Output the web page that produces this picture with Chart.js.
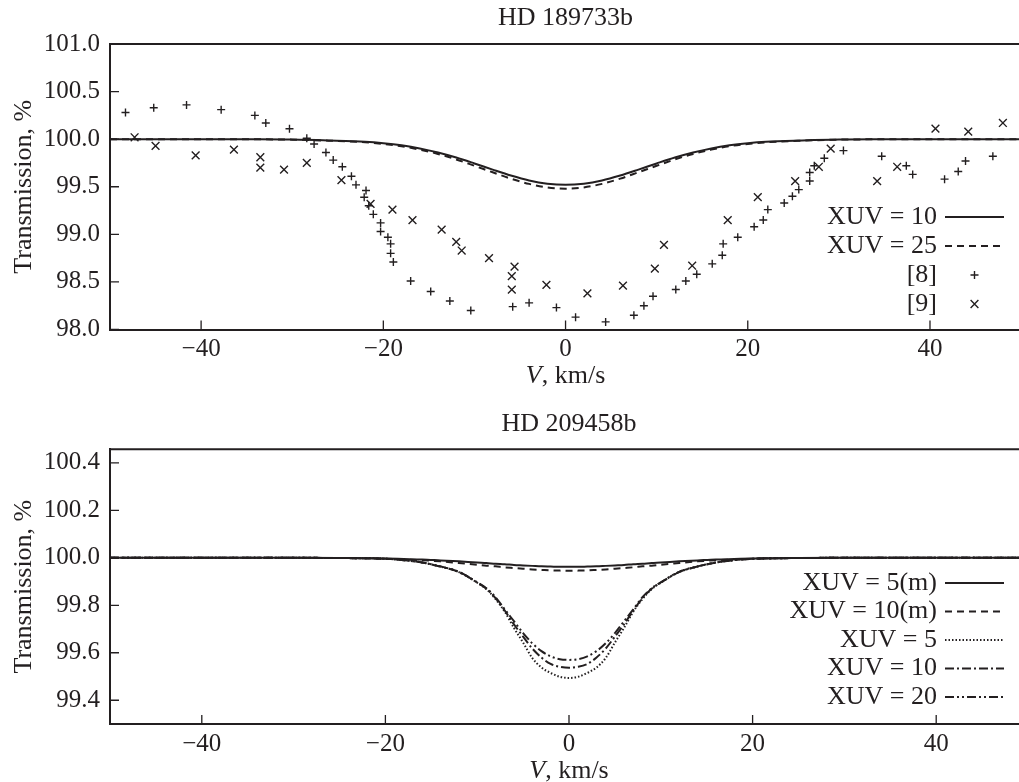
<!DOCTYPE html>
<html>
<head>
<meta charset="utf-8">
<title>Transmission profiles</title>
<script src="https://cdn.jsdelivr.net/npm/chart.js@4.4.1/dist/chart.umd.min.js"></script>
<style>
  html, body { margin: 0; padding: 0; background: #fff; overflow: hidden; }
  .panel { width: 1028px; height: 391px; }
  canvas { display: block; }
</style>
</head>
<body>
<div class="panel"><canvas id="hd189733" width="1028" height="391"></canvas></div>
<div class="panel"><canvas id="hd209458" width="1028" height="391"></canvas></div>
<script>
const INK = '#231f20';
const SERIF = '"Liberation Serif", "Times New Roman", serif';

// shared axis ticks
const xTicks = [-40, -20, 0, 20, 40];
const yTicks189 = [98.0, 98.5, 99.0, 99.5, 100.0, 100.5, 101.0];
const yTicks209 = [99.4, 99.6, 99.8, 100.0, 100.2, 100.4];

// HD 189733b, model profiles
const v189 = [-50, -40, -35, -30, -26, -22, -20, -18, -16, -14, -12, -10, -8, -6, -4, -2,
  0, 2, 4, 6, 8, 10, 12, 14, 16, 18, 20, 22, 26, 30, 35, 40, 50];
const t189xuv10 = [100, 100, 99.999, 99.996, 99.986, 99.972, 99.957, 99.935, 99.903, 99.86, 99.807, 99.745, 99.68, 99.618, 99.566, 99.532,
  99.52, 99.532, 99.566, 99.618, 99.68, 99.745, 99.807, 99.86, 99.903, 99.935, 99.957, 99.972, 99.986, 99.996, 99.999, 100, 100];
const t189xuv25 = [100, 100, 99.999, 99.995, 99.984, 99.967, 99.95, 99.926, 99.89, 99.845, 99.787, 99.72, 99.652, 99.585, 99.53, 99.493,
  99.48, 99.493, 99.53, 99.585, 99.652, 99.72, 99.787, 99.845, 99.89, 99.926, 99.95, 99.967, 99.984, 99.995, 99.999, 100, 100];

// HD 189733b, observations [8]
const obs8V = [-48.3, -45.2, -41.6, -37.8, -34.1, -32.9, -30.3, -28.4, -27.6, -26.3, -25.5, -24.5, -23.5, -23.0,
  -21.9, -22.1, -21.6, -21.1, -20.3, -20.3, -19.5, -19.2, -19.2, -18.9, -17.0, -14.8, -12.7, -10.4, -5.8, -4.0,
  -1.0, 1.1, 4.4, 7.5, 8.6, 9.6, 12.1, 13.2, 14.4, 16.1, 17.2, 17.3, 18.9, 20.7, 21.7, 22.2, 24.0, 24.9, 25.6,
  26.8, 26.8, 27.3, 28.4, 30.5, 34.7, 37.4, 38.1, 41.6, 43.1, 43.9, 46.9];
const obs8T = [100.28, 100.33, 100.36, 100.31, 100.25, 100.17, 100.11, 100.01, 99.95, 99.86, 99.78, 99.71, 99.61, 99.52,
  99.46, 99.39, 99.30, 99.21, 99.12, 99.03, 98.97, 98.90, 98.80, 98.71, 98.51, 98.40, 98.30, 98.20, 98.24, 98.28,
  98.23, 98.13, 98.08, 98.15, 98.25, 98.35, 98.42, 98.51, 98.58, 98.69, 98.78, 98.90, 98.97, 99.08, 99.15, 99.26, 99.33, 99.40, 99.47,
  99.56, 99.65, 99.72, 99.80, 99.88, 99.82, 99.72, 99.63, 99.58, 99.66, 99.77, 99.82];

// HD 189733b, observations [9]
const obs9V = [-47.3, -45.0, -40.6, -36.4, -33.5, -33.5, -30.9, -28.4, -24.6, -21.4, -19.0, -16.8, -13.6, -12.0,
  -11.4, -8.4, -5.6, -5.9, -5.9, -2.1, 2.4, 6.3, 9.8, 10.8, 13.9, 17.8, 21.1, 25.2, 27.8, 29.1, 34.2, 36.4,
  40.6, 44.2, 48.0];
const obs9T = [100.02, 99.93, 99.83, 99.89, 99.81, 99.70, 99.68, 99.75, 99.57, 99.32, 99.26, 99.15, 99.05, 98.92,
  98.83, 98.75, 98.66, 98.56, 98.42, 98.47, 98.38, 98.46, 98.64, 98.89, 98.67, 99.15, 99.39, 99.56, 99.71, 99.90, 99.56, 99.71,
  100.11, 100.08, 100.17];

// HD 209458b, model profiles
const v209 = [-50, -40, -30, -25, -20, -18, -16, -14, -12, -10, -9, -8, -7, -6, -5, -4, -3, -2, -1,
  0, 1, 2, 3, 4, 5, 6, 7, 8, 9, 10, 12, 14, 16, 18, 20, 25, 30, 40, 50];
const t209xuv5m = [100, 100, 100, 99.999, 99.997, 99.995, 99.993, 99.989, 99.985, 99.98, 99.978, 99.975, 99.973, 99.97, 99.968, 99.966, 99.964, 99.963, 99.962,
  99.962, 99.962, 99.963, 99.964, 99.966, 99.968, 99.97, 99.973, 99.975, 99.978, 99.98, 99.985, 99.989, 99.993, 99.995, 99.997, 99.999, 100, 100, 100];
const t209xuv10m = [100, 100, 100, 99.999, 99.996, 99.993, 99.99, 99.985, 99.978, 99.971, 99.967, 99.964, 99.96, 99.957, 99.954, 99.951, 99.949, 99.947, 99.946,
  99.945, 99.946, 99.947, 99.949, 99.951, 99.954, 99.957, 99.96, 99.964, 99.967, 99.971, 99.978, 99.985, 99.99, 99.993, 99.996, 99.999, 100, 100, 100];
const t209xuv5 = [100, 100, 100, 99.999, 99.996, 99.99, 99.98, 99.963, 99.94, 99.895, 99.868, 99.826, 99.773, 99.705, 99.643, 99.578, 99.538, 99.515, 99.499,
  99.494, 99.499, 99.515, 99.538, 99.578, 99.643, 99.705, 99.773, 99.826, 99.868, 99.895, 99.94, 99.963, 99.98, 99.99, 99.996, 99.999, 100, 100, 100];
const t209xuv10 = [100, 100, 100, 99.999, 99.996, 99.99, 99.98, 99.963, 99.94, 99.896, 99.87, 99.83, 99.778, 99.72, 99.668, 99.618, 99.58, 99.553, 99.541,
  99.537, 99.541, 99.553, 99.58, 99.618, 99.668, 99.72, 99.778, 99.83, 99.87, 99.896, 99.94, 99.963, 99.98, 99.99, 99.996, 99.999, 100, 100, 100];
const t209xuv20 = [100, 100, 100, 99.999, 99.996, 99.99, 99.98, 99.964, 99.941, 99.897, 99.872, 99.834, 99.783, 99.733, 99.683, 99.64, 99.607, 99.585, 99.573,
  99.57, 99.573, 99.585, 99.607, 99.64, 99.683, 99.733, 99.783, 99.834, 99.872, 99.897, 99.941, 99.964, 99.98, 99.99, 99.996, 99.999, 100, 100, 100];

Chart.defaults.font.family = SERIF;
Chart.defaults.font.size = 25;
Chart.defaults.color = INK;

const pts = (xs, ys) => xs.map((x, i) => ({ x, y: ys[i] }));

const curve = (label, xs, ys, dash) => ({
  label,
  data: pts(xs, ys),
  showLine: true,
  borderColor: INK,
  borderWidth: 2,
  borderDash: dash,
  pointRadius: 0,
  cubicInterpolationMode: 'monotone',
});

const marks = (label, xs, ys, style, r) => ({
  label,
  data: pts(xs, ys),
  showLine: false,
  pointStyle: style,
  pointRadius: r,
  borderColor: INK,
  backgroundColor: INK,
  borderWidth: 1.4,
});

// top border plus tick marks pointing into the plot
const frame = {
  id: 'frame',
  afterDraw(chart) {
    const { ctx, chartArea: a, scales: { x, y } } = chart;
    ctx.save();
    ctx.strokeStyle = INK;
    ctx.lineWidth = 2;
    ctx.beginPath();
    ctx.moveTo(a.left - 1, a.top);
    ctx.lineTo(a.right, a.top);
    ctx.stroke();
    ctx.lineWidth = 1.3;
    ctx.beginPath();
    x.ticks.forEach((t, i) => {
      const px = x.getPixelForTick(i);
      ctx.moveTo(px, a.bottom);
      ctx.lineTo(px, a.bottom - 9);
    });
    y.ticks.forEach((t, i) => {
      const py = y.getPixelForTick(i);
      ctx.moveTo(a.left, py);
      ctx.lineTo(a.left + 9, py);
    });
    ctx.stroke();
    ctx.restore();
  },
};

// "V, km/s" with an italic V
const velocityLabel = {
  id: 'velocityLabel',
  afterDraw(chart, args, o) {
    const { ctx, chartArea: a } = chart;
    const italic = `italic 26px ${SERIF}`;
    const plain = `26px ${SERIF}`;
    ctx.save();
    ctx.fillStyle = INK;
    ctx.textBaseline = 'middle';
    ctx.textAlign = 'left';
    ctx.font = italic;
    const w1 = ctx.measureText('V').width;
    ctx.font = plain;
    const w2 = ctx.measureText(', km/s').width;
    const x0 = (a.left + a.right) / 2 - (w1 + w2) / 2;
    ctx.font = italic;
    ctx.fillText('V', x0, o.y);
    ctx.font = plain;
    ctx.fillText(', km/s', x0 + w1, o.y);
    ctx.restore();
  },
};

// key inside the plot: label on the left, sample on the right
const keyBox = {
  id: 'keyBox',
  afterDraw(chart, args, o) {
    const ctx = chart.ctx;
    ctx.save();
    ctx.font = `26px ${SERIF}`;
    ctx.fillStyle = INK;
    ctx.strokeStyle = INK;
    ctx.textAlign = 'right';
    ctx.textBaseline = 'middle';
    chart.data.datasets.forEach((ds, i) => {
      const y = o.top + i * o.row;
      ctx.fillText(ds.label, o.right, y);
      const x0 = o.right + 8;
      const x1 = x0 + 59;
      ctx.lineWidth = ds.borderWidth;
      if (ds.showLine) {
        ctx.setLineDash(ds.borderDash || []);
        ctx.beginPath();
        ctx.moveTo(x0, y);
        ctx.lineTo(x1, y);
        ctx.stroke();
        ctx.setLineDash([]);
      } else {
        Chart.helpers.drawPoint(ctx, {
          pointStyle: ds.pointStyle, radius: ds.pointRadius, borderWidth: ds.borderWidth, rotation: 0,
        }, (x0 + x1) / 2, y);
      }
    });
    ctx.restore();
  },
};

function axes(yMin, yMax, yTicks, xHeight) {
  return {
    x: {
      type: 'linear',
      min: -50,
      max: 50,
      afterBuildTicks: (s) => { s.ticks = xTicks.map((value) => ({ value })); },
      afterFit: (s) => { s.height = xHeight; },
      grid: { display: false, drawTicks: false },
      border: { display: true, color: INK, width: 2 },
      ticks: {
        padding: 5,
        maxRotation: 0,
        callback: (v) => (v < 0 ? '\u2212' + Math.abs(v) : String(v)),
      },
    },
    y: {
      type: 'linear',
      min: yMin,
      max: yMax,
      afterBuildTicks: (s) => { s.ticks = yTicks.map((value) => ({ value })); },
      afterFit: (s) => { s.width = 110; },
      grid: { display: false, drawTicks: false },
      border: { display: true, color: INK, width: 2 },
      ticks: { padding: 10, callback: (v) => v.toFixed(1) },
      title: { display: true, text: 'Transmission, %', padding: { top: 9 }, font: { size: 26 } },
    },
  };
}

function titleOpts(text, top, bottom) {
  return {
    display: true,
    text,
    fullSize: false,
    color: INK,
    font: { size: 26, weight: 'normal' },
    padding: { top, bottom },
  };
}

new Chart(document.getElementById('hd189733'), {
  type: 'scatter',
  data: {
    datasets: [
      curve('XUV = 10', v189, t189xuv10, []),
      curve('XUV = 25', v189, t189xuv25, [7, 5]),
      marks('[8]', obs8V, obs8T, 'cross', 4),
      marks('[9]', obs9V, obs9T, 'crossRot', 5.5),
    ],
  },
  options: {
    responsive: false,
    devicePixelRatio: 1,
    animation: false,
    layout: { padding: 0 },
    scales: axes(98, 101, yTicks189, 61.5),
    plugins: {
      legend: { display: false },
      tooltip: { enabled: false },
      title: titleOpts('HD 189733b', 2.4, 10.4),
      keyBox: { right: 937, top: 217, row: 29 },
      velocityLabel: { y: 376 },
    },
  },
  plugins: [frame, velocityLabel, keyBox],
});

new Chart(document.getElementById('hd209458'), {
  type: 'scatter',
  data: {
    datasets: [
      curve('XUV = 5(m)', v209, t209xuv5m, []),
      curve('XUV = 10(m)', v209, t209xuv10m, [7, 5]),
      curve('XUV = 5', v209, t209xuv5, [1.5, 2]),
      curve('XUV = 10', v209, t209xuv10, [9, 3, 2, 3]),
      curve('XUV = 20', v209, t209xuv20, [9, 3, 2, 3, 2, 3]),
    ],
  },
  options: {
    responsive: false,
    devicePixelRatio: 1,
    animation: false,
    layout: { padding: 0 },
    scales: axes(99.3, 100.457, yTicks209, 58),
    plugins: {
      legend: { display: false },
      tooltip: { enabled: false },
      title: titleOpts('HD 209458b', 17.4, 9.7),
      keyBox: { right: 937, top: 192, row: 28.5 },
      velocityLabel: { y: 380 },
    },
  },
  plugins: [frame, velocityLabel, keyBox],
});
</script>
</body>
</html>
